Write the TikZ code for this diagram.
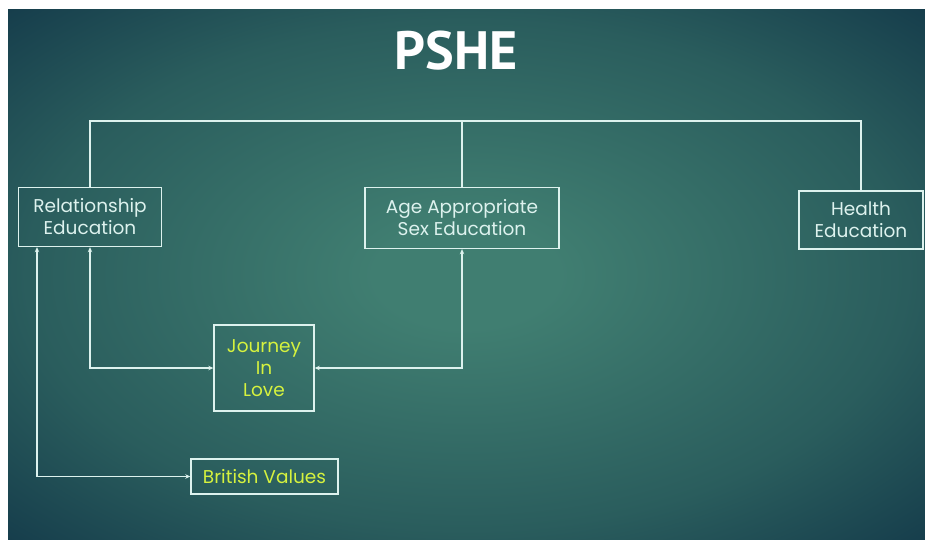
\documentclass[tikz,border=0pt]{standalone}
\usepackage{fontspec}
\setmainfont{Poppins}
\newfontfamily\titlefont{PT Sans}
\usepackage{xcolor}
\usetikzlibrary{arrows.meta}

\definecolor{bgin}{HTML}{407E71}
\definecolor{bgmid}{HTML}{2A5D5D}
\definecolor{bgout}{HTML}{153C4B}
\definecolor{linecol}{HTML}{DDF2EE}
\definecolor{jiltext}{HTML}{D6F23E}

\pgfdeclareradialshading{slideglow}{\pgfpoint{0bp}{0bp}}{%
  color(0bp)=(bgin); color(5bp)=(bgin); color(24bp)=(bgmid); color(36bp)=(bgout); color(50bp)=(bgout)}

\tikzset{
  topicbox/.style={draw=linecol, line width=1.4pt, align=center, text=linecol,
    inner sep=0pt, font=\fontsize{18.5}{22}\selectfont},
  yellowbox/.style={topicbox, text=jiltext},
  link/.style={draw=linecol, line width=1.6pt},
  twoway/.style={link, {Stealth[length=5pt,width=4.5pt]}-{Stealth[length=5pt,width=4.5pt]}}
}

\begin{document}
\begin{tikzpicture}[x=1pt, y=-1pt]
% page and background
\fill[white] (0,0) rectangle (925,540);
\useasboundingbox (0,0) rectangle (925,540);
\shade[shading=slideglow] (8,10) rectangle (925,540);
% title
\node[text=white, font=\titlefont\bfseries\fontsize{54}{54}\selectfont] (title) at (456,51) {PSHE};
% Draw the three main topics
\node[topicbox, minimum width=143pt, minimum height=59pt] (rel) at (90,217) {Relationship\\Education};
\node[topicbox, minimum width=194pt, minimum height=61pt] (age) at (462,218) {Age Appropriate\\Sex Education};
\node[topicbox, minimum width=124pt, minimum height=58pt] (hea) at (861,220) {Health\\Education};
% Draw the linked topics
\node[yellowbox, minimum width=100pt, minimum height=86pt] (joy) at (264,368) {Journey\\In\\Love};
\node[yellowbox, minimum width=147pt, minimum height=35pt] (bri) at (264.5,476.5) {British Values};
% Draw the bar on top
\coordinate (bar) at (462,121);
\draw[link] (rel.north) |- (bar) -| (hea.north);
\draw[link] (bar) -- (age.north);
% Draw the arrows
\draw[twoway] (rel.south) |- (joy.west);
\draw[twoway] (age.south) |- (joy.east);
\draw[twoway] ([xshift=-53pt]rel.south) |- (bri.west);
\end{tikzpicture}
\end{document}
